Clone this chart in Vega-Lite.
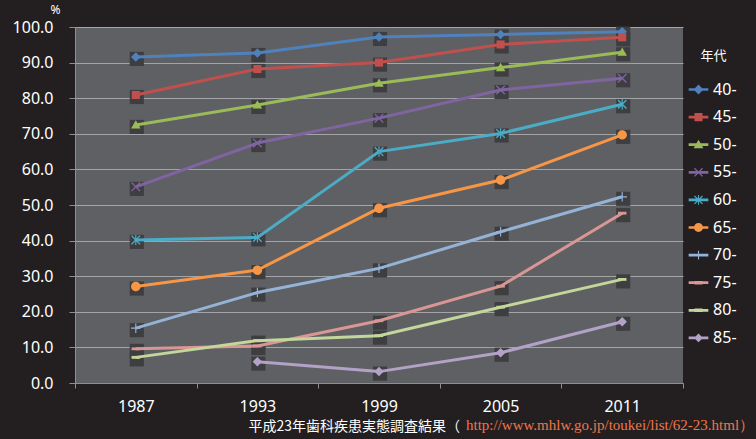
{
  "$schema": "https://vega.github.io/schema/vega-lite/v6.json",
  "width": 608,
  "height": 356,
  "autosize": {"type": "none"},
  "padding": {"left": 75, "top": 27, "right": 73, "bottom": 56},
  "background": "#231f20",
  "title": {
    "text": "http://www.mhlw.go.jp/toukei/list/62-23.html）",
    "orient": "bottom",
    "anchor": "start",
    "frame": "group",
    "dx": 391,
    "dy": -8,
    "offset": 0,
    "baseline": "middle",
    "font": "Liberation Serif",
    "fontSize": 15,
    "fontWeight": "normal",
    "color": "#f0764a"
  },
  "config": {
    "view": {"fill": "#5f6064", "stroke": null},
    "font": "Noto Sans",
    "axis": {
      "labelColor": "#ffffff",
      "labelFont": "Noto Sans",
      "labelFontSize": 16,
      "domainColor": "#8f8f8f",
      "tickColor": "#8f8f8f",
      "titleFontWeight": "normal"
    },
    "legend": {
      "orient": "none",
      "legendX": 615.5,
      "legendY": 22.5,
      "titleFont": "Noto Sans CJK JP",
      "titleFontSize": 13,
      "titleFontWeight": "normal",
      "titleColor": "#ffffff",
      "titleAnchor": "middle",
      "titlePadding": 19,
      "labelFont": "Noto Sans",
      "labelFontSize": 16,
      "labelColor": "#ffffff",
      "labelOffset": 6.6,
      "rowPadding": 11.6,
      "symbolSize": 80
    }
  },
  "resolve": {"legend": {"shape": "independent", "color": "independent"}},
  "data": {
    "values": [
      {"year": "1987", "age": "40-", "pct": 91.6},
      {"year": "1993", "age": "40-", "pct": 92.7},
      {"year": "1999", "age": "40-", "pct": 97.2},
      {"year": "2005", "age": "40-", "pct": 97.9},
      {"year": "2011", "age": "40-", "pct": 98.7},
      {"year": "1987", "age": "45-", "pct": 80.9},
      {"year": "1993", "age": "45-", "pct": 88.2},
      {"year": "1999", "age": "45-", "pct": 90.0},
      {"year": "2005", "age": "45-", "pct": 95.1},
      {"year": "2011", "age": "45-", "pct": 97.1},
      {"year": "1987", "age": "50-", "pct": 72.5},
      {"year": "1993", "age": "50-", "pct": 78.1},
      {"year": "1999", "age": "50-", "pct": 84.2},
      {"year": "2005", "age": "50-", "pct": 88.6},
      {"year": "2011", "age": "50-", "pct": 92.9},
      {"year": "1987", "age": "55-", "pct": 55.1},
      {"year": "1993", "age": "55-", "pct": 67.4},
      {"year": "1999", "age": "55-", "pct": 74.4},
      {"year": "2005", "age": "55-", "pct": 82.3},
      {"year": "2011", "age": "55-", "pct": 85.6},
      {"year": "1987", "age": "60-", "pct": 40.2},
      {"year": "1993", "age": "60-", "pct": 40.9},
      {"year": "1999", "age": "60-", "pct": 65.0},
      {"year": "2005", "age": "60-", "pct": 70.1},
      {"year": "2011", "age": "60-", "pct": 78.3},
      {"year": "1987", "age": "65-", "pct": 27.1},
      {"year": "1993", "age": "65-", "pct": 31.7},
      {"year": "1999", "age": "65-", "pct": 49.1},
      {"year": "2005", "age": "65-", "pct": 57.0},
      {"year": "2011", "age": "65-", "pct": 69.7},
      {"year": "1987", "age": "70-", "pct": 15.4},
      {"year": "1993", "age": "70-", "pct": 25.4},
      {"year": "1999", "age": "70-", "pct": 32.2},
      {"year": "2005", "age": "70-", "pct": 42.5},
      {"year": "2011", "age": "70-", "pct": 52.3},
      {"year": "1987", "age": "75-", "pct": 9.6},
      {"year": "1993", "age": "75-", "pct": 10.4},
      {"year": "1999", "age": "75-", "pct": 17.5},
      {"year": "2005", "age": "75-", "pct": 27.2},
      {"year": "2011", "age": "75-", "pct": 47.7},
      {"year": "1987", "age": "80-", "pct": 7.2},
      {"year": "1993", "age": "80-", "pct": 11.9},
      {"year": "1999", "age": "80-", "pct": 13.3},
      {"year": "2005", "age": "80-", "pct": 21.3},
      {"year": "2011", "age": "80-", "pct": 29.1},
      {"year": "1993", "age": "85-", "pct": 6.0},
      {"year": "1999", "age": "85-", "pct": 3.2},
      {"year": "2005", "age": "85-", "pct": 8.5},
      {"year": "2011", "age": "85-", "pct": 17.2}
    ]
  },
  "encoding": {
    "x": {
      "field": "year",
      "type": "ordinal",
      "bandPosition": 0.5,
      "scale": {"type": "band", "paddingInner": 0, "paddingOuter": 0},
      "axis": {
        "title": "平成23年歯科疾患実態調査結果（",
        "titleX": 173,
        "titleY": 43,
        "titleAlign": "left",
        "titleBaseline": "middle",
        "titleFont": "Noto Sans CJK JP",
        "titleFontSize": 14,
        "titleColor": "#ffffff",
        "labelAngle": 0,
        "tickBand": "extent",
        "tickSize": 5,
        "labelPadding": 10,
        "grid": false
      }
    },
    "y": {
      "field": "pct",
      "type": "quantitative",
      "scale": {"domain": [0, 100]},
      "axis": {
        "title": "%",
        "titleAngle": 0,
        "titleX": -20,
        "titleY": -18,
        "titleAlign": "center",
        "titleBaseline": "middle",
        "titleFontSize": 12,
        "titleColor": "#ffffff",
        "values": [0, 10, 20, 30, 40, 50, 60, 70, 80, 90, 100],
        "format": ".1f",
        "tickSize": 6,
        "labelPadding": 16,
        "grid": true,
        "gridColor": "#a4a4a6",
        "gridWidth": 1
      }
    }
  },
  "layer": [
    {
      "mark": {"type": "point", "shape": "square", "filled": true, "size": 200, "color": "#3e3e41", "opacity": 1, "xOffset": 1, "yOffset": 2}
    },
    {
      "mark": {"type": "line", "strokeWidth": 3},
      "encoding": {
        "color": {
          "field": "age",
          "type": "nominal",
          "scale": {
            "domain": ["40-", "45-", "50-", "55-", "60-", "65-", "70-", "75-", "80-", "85-"],
            "range": ["#4f81bd", "#c0504d", "#9bbb59", "#8064a2", "#4bacc6", "#f79646", "#95b3d7", "#d99694", "#c3d69b", "#b3a2c7"]
          },
          "legend": {
            "title": "年代",
            "encode": {
              "symbols": {
                "update": {
                  "shape": {"signal": "['M-2.2,-0.3H2.2V0.3H-2.2ZM0,-1.1L1.1,0L0,1.1L-1.1,0Z','M-2.2,-0.3H2.2V0.3H-2.2ZM-0.9,-0.9H0.9V0.9H-0.9Z','M-2.2,-0.3H2.2V0.3H-2.2ZM0,-1.1L1.1,0.8H-1.1Z','M-2.2,-0.3H2.2V0.3H-2.2ZM-1,-0.8L-0.8,-1L0,-0.2L0.8,-1L1,-0.8L0.2,0L1,0.8L0.8,1L0,0.2L-0.8,1L-1,0.8L-0.2,0Z','M-2.2,-0.3H2.2V0.3H-2.2ZM-1,-0.8L-0.8,-1L0,-0.2L0.8,-1L1,-0.8L0.2,0L1,0.8L0.8,1L0,0.2L-0.8,1L-1,0.8L-0.2,0ZM-0.12,-1.1H0.12V1.1H-0.12Z','M-2.2,-0.3H2.2V0.3H-2.2ZM-1,0A1,1,0,1,1,1,0A1,1,0,1,1,-1,0Z','M-2.2,-0.3H2.2V0.3H-2.2ZM-0.12,-1H0.12V1H-0.12Z','M-2.2,-0.3H2.2V0.3H-2.2ZM-0.9,-0.4H0.9V0.4H-0.9Z','M-2.2,-0.3H2.2V0.3H-2.2ZM-0.9,-0.4H0.9V0.4H-0.9Z','M-2.2,-0.3H2.2V0.3H-2.2ZM0,-1L1,0L0,1L-1,0Z'][indexof(['40-','45-','50-','55-','60-','65-','70-','75-','80-','85-'], datum.value)]"},
                  "fill": {"scale": "color", "field": "value"},
                  "strokeWidth": {"value": 0},
                  "opacity": {"value": 1}
                }
              }
            }
          }
        }
      }
    },
    {
      "mark": {"type": "point", "filled": true, "size": 90, "opacity": 1},
      "encoding": {
        "color": {"field": "age", "type": "nominal", "legend": null},
        "shape": {
          "field": "age",
          "type": "nominal",
          "scale": {
            "domain": ["40-", "45-", "50-", "55-", "60-", "65-", "70-", "75-", "80-", "85-"],
            "range": [
              "M0,-1L1,0L0,1L-1,0Z",
              "M-0.85,-0.85H0.85V0.85H-0.85Z",
              "M0,-1L1,0.75H-1Z",
              "M-1,-0.8L-0.8,-1L0,-0.2L0.8,-1L1,-0.8L0.2,0L1,0.8L0.8,1L0,0.2L-0.8,1L-1,0.8L-0.2,0Z",
              "M-1,-0.8L-0.8,-1L0,-0.2L0.8,-1L1,-0.8L0.2,0L1,0.8L0.8,1L0,0.2L-0.8,1L-1,0.8L-0.2,0ZM-0.12,-1.1H0.12V1.1H-0.12Z",
              "M-1,0A1,1,0,1,1,1,0A1,1,0,1,1,-1,0Z",
              "M-1,-0.12H-0.12V-1H0.12V-0.12H1V0.12H0.12V1H-0.12V0.12H-1Z",
              "M-0.9,-0.3H0.9V0.3H-0.9Z",
              "M-0.9,-0.3H0.9V0.3H-0.9Z",
              "M0,-1L1,0L0,1L-1,0Z"
            ]
          },
          "legend": null
        }
      }
    }
  ]
}
